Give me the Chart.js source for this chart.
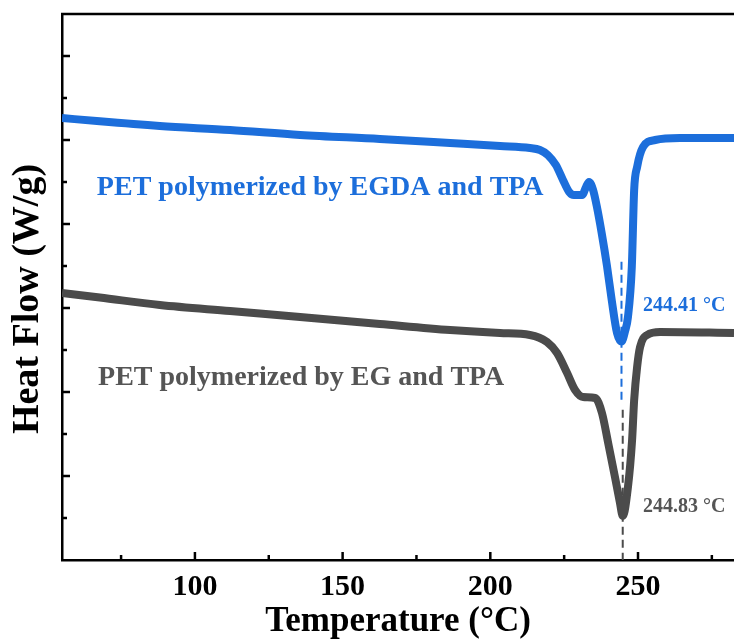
<!DOCTYPE html>
<html lang="en">
<head>
    <meta charset="UTF-8">
    <title>DSC curves of PET</title>
    <style>
        body {
            margin: 0;
            background-color: #fff;
        }

        #dscChart {
            display: block;
        }
    </style>
    <script src="https://cdn.jsdelivr.net/npm/chart.js"></script>
</head>
<body>
    <canvas id="dscChart" width="734" height="639"></canvas>

    <script>
        // Temperature (°C) and heat flow (arbitrary offset units)
        const egdaTemp = [55, 67.8, 88.1, 111.9, 135.6, 162.6, 186.4, 203.3, 213.4, 216.8, 219.5, 222.2, 224.6, 226.7, 228.3, 231.1, 232.4, 233.4, 234.8, 236.1, 237.7, 239.5, 241.1, 242.9, 244.41, 245.6, 246.6, 247.9, 248.7, 249.7, 251.7, 255.8, 264.2, 282.5];
        const egdaFlow = [5.262, 5.222, 5.167, 5.119, 5.060, 5.012, 4.964, 4.929, 4.905, 4.881, 4.821, 4.702, 4.524, 4.381, 4.345, 4.345, 4.440, 4.500, 4.405, 4.202, 3.893, 3.500, 3.095, 2.702, 2.600, 2.720, 2.893, 3.488, 4.405, 4.679, 4.917, 5.000, 5.024, 5.024];

        const egTemp = [55, 67.8, 88.1, 111.9, 135.6, 162.6, 186.4, 203.3, 213.4, 219.2, 222.6, 226.0, 228.7, 231.4, 235.5, 237.8, 239.9, 242.2, 243.9, 244.83, 246.6, 248.0, 248.7, 249.7, 250.7, 253.1, 257.5, 282.5];
        const egFlow = [3.179, 3.125, 3.036, 2.964, 2.893, 2.810, 2.738, 2.702, 2.679, 2.595, 2.464, 2.226, 2.024, 1.940, 1.929, 1.750, 1.393, 0.988, 0.679, 0.524, 0.869, 1.429, 1.905, 2.298, 2.536, 2.679, 2.714, 2.702];

        // peak markers
        const peakTemps = [244.41, 244.83];
        const peakLabels = ['244.41 °C', '244.83 °C'];
        const egdaPeakDash = [3.55, 1.87];
        const egPeakDash = [1.79, 0];

        const seriesNames = ['PET polymerized by EGDA and TPA', 'PET polymerized by EG and TPA'];

        // axis ticks
        const xMajorTicks = [100, 150, 200, 250];
        const xMinorTicks = [75, 125, 175, 225, 275];
        const yMajorTicks = [1, 2, 3, 4, 5, 6];
        const yMinorTicks = [0.5, 1.5, 2.5, 3.5, 4.5, 5.5];

        const BLUE = '#1c6edb';
        const GREY = '#4b4b4b';
        const FONT = '"Liberation Serif", "Times New Roman", serif';

        const pairs = (xs, ys) => xs.map((v, i) => ({ x: v, y: ys[i] }));

        // ticks inward, top frame line, y title and text labels
        const decorations = {
            id: 'decorations',
            afterDraw(chart) {
                const { ctx, chartArea: area, scales: { x, y } } = chart;
                ctx.save();
                ctx.strokeStyle = '#000';
                ctx.lineWidth = 2.5;
                ctx.beginPath();
                ctx.moveTo(area.left - 1, area.top);
                ctx.lineTo(area.right, area.top);
                ctx.stroke();

                const seg = (x1, y1, x2, y2) => {
                    ctx.beginPath();
                    ctx.moveTo(x1, y1);
                    ctx.lineTo(x2, y2);
                    ctx.stroke();
                };
                xMajorTicks.forEach(v => { const p = x.getPixelForValue(v); seg(p, area.bottom, p, area.bottom - 8); });
                xMinorTicks.forEach(v => { const p = x.getPixelForValue(v); seg(p, area.bottom, p, area.bottom - 5); });
                yMajorTicks.forEach(v => { const p = y.getPixelForValue(v); seg(area.left, p, area.left + 8, p); });
                yMinorTicks.forEach(v => { const p = y.getPixelForValue(v); seg(area.left, p, area.left + 5, p); });

                // y axis title, a bit below the middle like the original
                ctx.save();
                ctx.translate(28, 299);
                ctx.rotate(-Math.PI / 2);
                ctx.font = 'bold 38px ' + FONT;
                ctx.fillStyle = '#000';
                ctx.textAlign = 'center';
                ctx.textBaseline = 'middle';
                ctx.fillText('Heat Flow (W/g)', 0, 0);
                ctx.restore();

                ctx.textBaseline = 'middle';
                ctx.textAlign = 'left';
                ctx.font = 'bold 28px ' + FONT;
                ctx.fillStyle = BLUE;
                ctx.fillText(seriesNames[0], x.getPixelForValue(66.8), y.getPixelForValue(4.43));
                ctx.fillStyle = '#555';
                ctx.fillText(seriesNames[1], x.getPixelForValue(67.2), y.getPixelForValue(2.17));

                ctx.font = 'bold 20px ' + FONT;
                ctx.fillStyle = BLUE;
                ctx.fillText(peakLabels[0], x.getPixelForValue(251.7), y.getPixelForValue(3.02));
                ctx.fillStyle = '#555';
                ctx.fillText(peakLabels[1], x.getPixelForValue(251.7), y.getPixelForValue(0.63));
                ctx.restore();
            }
        };

        const ctx = document.getElementById('dscChart').getContext('2d');
        new Chart(ctx, {
            type: 'line',
            data: {
                datasets: [
                    {
                        label: seriesNames[0],
                        data: pairs(egdaTemp, egdaFlow),
                        borderColor: BLUE,
                        borderWidth: 8,
                        borderJoinStyle: 'round',
                        cubicInterpolationMode: 'monotone'
                    },
                    {
                        label: seriesNames[1],
                        data: pairs(egTemp, egFlow),
                        borderColor: GREY,
                        borderWidth: 8,
                        borderJoinStyle: 'round',
                        cubicInterpolationMode: 'monotone'
                    },
                    {
                        label: 'EGDA peak',
                        data: pairs([peakTemps[0], peakTemps[0]], egdaPeakDash),
                        borderColor: BLUE,
                        borderWidth: 2,
                        borderDash: [8, 5]
                    },
                    {
                        label: 'EG peak',
                        data: pairs([peakTemps[1], peakTemps[1]], egPeakDash),
                        borderColor: GREY,
                        borderWidth: 2,
                        borderDash: [8, 5]
                    }
                ]
            },
            options: {
                responsive: false,
                animation: false,
                parsing: false,
                elements: { point: { radius: 0 } },
                layout: { padding: { top: 14, right: 0, left: 0, bottom: 0 } },
                scales: {
                    x: {
                        type: 'linear',
                        min: 55,
                        max: 282.5,
                        afterFit: scale => { scale.height = 79; },
                        afterBuildTicks: scale => { scale.ticks = xMajorTicks.map(v => ({ value: v })); },
                        grid: { display: false, drawTicks: false },
                        border: { display: true, color: '#000', width: 2.5 },
                        ticks: {
                            color: '#000',
                            padding: 9,
                            maxRotation: 0,
                            font: { family: FONT, size: 30, weight: 'bold' }
                        },
                        title: {
                            display: true,
                            text: 'Temperature (°C)',
                            color: '#000',
                            padding: 0,
                            font: { family: FONT, size: 35, weight: 'bold', lineHeight: 1 }
                        }
                    },
                    y: {
                        type: 'linear',
                        min: 0,
                        max: 6.5,
                        afterFit: scale => { scale.width = 62; },
                        grid: { display: false, drawTicks: false },
                        border: { display: true, color: '#000', width: 2.5 },
                        ticks: { display: false },
                        title: { display: false }
                    }
                },
                plugins: {
                    legend: { display: false },
                    tooltip: { enabled: false }
                }
            },
            plugins: [decorations]
        });
    </script>
</body>
</html>
